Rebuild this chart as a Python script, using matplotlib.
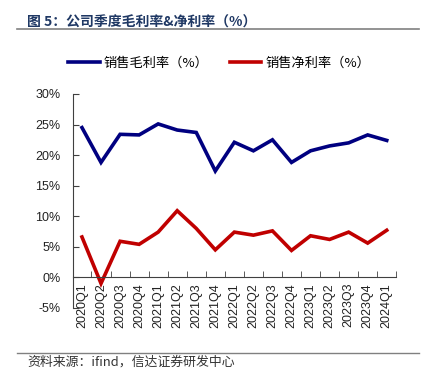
import numpy as np
import matplotlib
matplotlib.use("Agg")
import matplotlib.pyplot as plt
from matplotlib.lines import Line2D

plt.rcParams['font.family'] = ['Liberation Sans', 'Noto Sans CJK SC', 'DejaVu Sans']

quarters = ['2020Q1', '2020Q2', '2020Q3', '2020Q4',
            '2021Q1', '2021Q2', '2021Q3', '2021Q4',
            '2022Q1', '2022Q2', '2022Q3', '2022Q4',
            '2023Q1', '2023Q2', '2023Q3', '2023Q4',
            '2024Q1']
gross_margin = [24.5, 18.8, 23.4, 23.3, 25.1, 24.1, 23.7, 17.4,
                22.1, 20.7, 22.5, 18.8, 20.7, 21.5, 22.0, 23.3, 22.4]
net_margin = [6.6, -1.0, 5.9, 5.4, 7.4, 10.9, 8.0, 4.5,
              7.4, 6.9, 7.6, 4.4, 6.8, 6.2, 7.4, 5.6, 7.7]
yticks = [-5, 0, 5, 10, 15, 20, 25, 30]

title = '图 5：公司季度毛利率&净利率（%）'
source = '资料来源：ifind，信达证券研发中心'
label_gross = '销售毛利率（%）'
label_net = '销售净利率（%）'

cjk = ['Noto Sans CJK SC', 'DejaVu Sans']

fig = plt.figure(figsize=(4.27, 3.82), dpi=100)
ax = fig.add_axes([0.171, 0.194, 0.757, 0.56])

x = np.arange(len(quarters))
ax.plot(x, gross_margin, color='#000080', lw=2.6, solid_joinstyle='miter')
ax.plot(x, net_margin, color='#C00000', lw=2.6, solid_joinstyle='miter')

ax.set_xlim(-0.47, len(quarters) - 0.53)
ax.set_ylim(-5, 30)

ax.spines['top'].set_visible(False)
ax.spines['right'].set_visible(False)
ax.spines['bottom'].set_position(('data', 0))
for s in ['left', 'bottom']:
    ax.spines[s].set_color('#404040')
    ax.spines[s].set_linewidth(0.8)

ax.set_yticks(yticks)
ax.set_yticklabels([f'{v}%' for v in yticks], fontsize=9, color='#222222')
ax.tick_params(axis='y', direction='in', length=4, color='#404040', pad=9)

ax.set_xticks(x)
ax.set_xticklabels(quarters, rotation=90, fontsize=9, color='#222222')
ax.set_xticks(np.arange(len(quarters)) + 0.5, minor=True)
ax.tick_params(axis='x', which='major', length=0, pad=4)
ax.tick_params(axis='x', which='minor', direction='in', length=4, color='#404040')

handles = [Line2D([], [], color='#000080', lw=2.6),
           Line2D([], [], color='#C00000', lw=2.6)]
fig.legend(handles, [label_gross, label_net], loc='center', ncol=2,
           bbox_to_anchor=(0.513, 0.835), frameon=False,
           prop={'family': cjk, 'size': 9.5}, handlelength=2.4,
           handletextpad=0.3, columnspacing=1.6)

fig.text(0.063, 0.942, title, fontsize=10, fontweight='bold',
         color='#1F3864', family=cjk, va='center')
fig.add_artist(Line2D([0.04, 0.981], [0.924, 0.924], color='#808080', lw=1.2))
fig.add_artist(Line2D([0.04, 0.981], [0.076, 0.076], color='#808080', lw=1.0))
fig.text(0.063, 0.052, source, fontsize=9.3, style='italic',
         color='#333333', family=cjk, va='center')

fig.savefig('out.png', dpi=100)
